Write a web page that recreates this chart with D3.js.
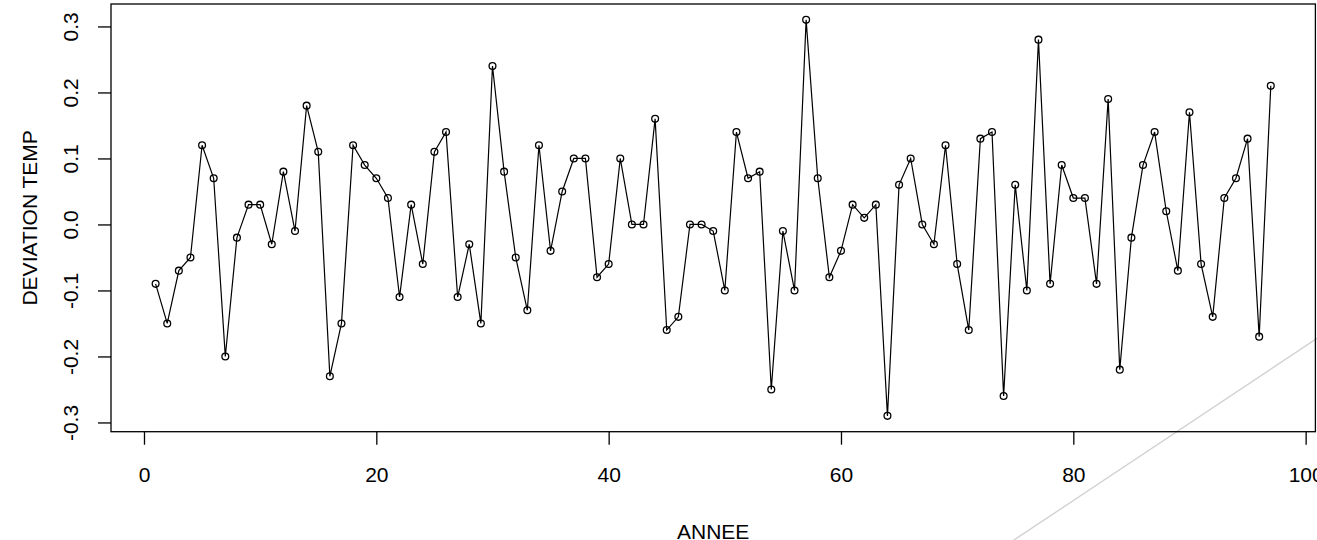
<!DOCTYPE html>
<html>
<head>
<meta charset="utf-8">
<script src="https://cdn.jsdelivr.net/npm/d3@7"></script>
<style>
  html, body { margin: 0; padding: 0; background: #fff; }
  svg { display: block; }
</style>
</head>
<body>
<svg id="chart" width="1317" height="540"></svg>
<script>
// years (ANNEE) and temperature deviation
var annee = d3.range(1, 98);
var deviation = [
  -0.09, -0.15, -0.07, -0.05, 0.12, 0.07, -0.20, -0.02, 0.03, 0.03,
  -0.03, 0.08, -0.01, 0.18, 0.11, -0.23, -0.15, 0.12, 0.09, 0.07,
  0.04, -0.11, 0.03, -0.06, 0.11, 0.14, -0.11, -0.03, -0.15, 0.24,
  0.08, -0.05, -0.13, 0.12, -0.04, 0.05, 0.10, 0.10, -0.08, -0.06,
  0.10, 0.00, 0.00, 0.16, -0.16, -0.14, 0.00, 0.00, -0.01, -0.10,
  0.14, 0.07, 0.08, -0.25, -0.01, -0.10, 0.31, 0.07, -0.08, -0.04,
  0.03, 0.01, 0.03, -0.29, 0.06, 0.10, 0.00, -0.03, 0.12, -0.06,
  -0.16, 0.13, 0.14, -0.26, 0.06, -0.10, 0.28, -0.09, 0.09, 0.04,
  0.04, -0.09, 0.19, -0.22, -0.02, 0.09, 0.14, 0.02, -0.07, 0.17,
  -0.06, -0.14, 0.04, 0.07, 0.13, -0.17, 0.21
];

// tick labels
var xTicks = [0, 20, 40, 60, 80, 100];
var yTicks = [-0.3, -0.2, -0.1, 0.0, 0.1, 0.2, 0.3];
var yTickLabels = ["-0.3", "-0.2", "-0.1", "0.0", "0.1", "0.2", "0.3"];

// light grey reference line (two ends, in data units)
var refX = [73, 103];
var refY = [-0.5003, -0.1489];

var W = 1317, H = 540;
var margin = { left: 111, right: 1.6, top: 4, bottom: 108.3 };
var font = "'Liberation Sans', Arial, Helvetica, sans-serif";

// R style 4% padding around the data range
function pad(ext) { var d = (ext[1] - ext[0]) * 0.04; return [ext[0] - d, ext[1] + d]; }

var scX = d3.scaleLinear().domain(pad(d3.extent(annee))).range([margin.left, W - margin.right]);
var scY = d3.scaleLinear().domain(pad(d3.extent(deviation))).range([H - margin.bottom, margin.top]);

var svg = d3.select("#chart");
svg.append("rect").attr("width", W).attr("height", H).attr("fill", "#fff");

// grey line, not clipped to the plot region
svg.append("line")
  .attr("x1", scX(refX[0])).attr("y1", scY(refY[0]))
  .attr("x2", scX(refX[1])).attr("y2", scY(refY[1]))
  .attr("stroke", "#d3d3d3").attr("stroke-width", 1.4);

// x axis
var gx = svg.append("g")
  .attr("transform", "translate(0," + (H - margin.bottom) + ")")
  .call(d3.axisBottom(scX).tickValues(xTicks).tickSize(13).tickFormat(d3.format("d")));
gx.select(".domain").remove();
gx.selectAll(".tick line").attr("stroke", "#000").attr("stroke-width", 1.3);
gx.selectAll(".tick text")
  .attr("y", 50).attr("dy", 0)
  .attr("fill", "#000")
  .style("font-family", font).style("font-size", "21px");

// y axis, labels rotated like R's las=0
var gy = svg.append("g")
  .attr("transform", "translate(" + margin.left + ",0)")
  .call(d3.axisLeft(scY).tickValues(yTicks).tickSize(13)
    .tickFormat(function(d, i) { return yTickLabels[i]; }));
gy.select(".domain").remove();
gy.selectAll(".tick line").attr("stroke", "#000").attr("stroke-width", 1.3);
gy.selectAll(".tick text")
  .attr("transform", "rotate(-90)")
  .attr("x", 0).attr("y", -32.7).attr("dy", 0)
  .attr("text-anchor", "middle")
  .attr("fill", "#000")
  .style("font-family", font).style("font-size", "21px");

// plot box
svg.append("rect")
  .attr("x", margin.left).attr("y", margin.top)
  .attr("width", W - margin.right - margin.left)
  .attr("height", H - margin.bottom - margin.top)
  .attr("fill", "none").attr("stroke", "#000").attr("stroke-width", 1.3);

// series: line plus open circles (type = "o")
var pts = annee.map(function(a, i) { return [a, deviation[i]]; });

svg.append("path")
  .datum(pts)
  .attr("fill", "none").attr("stroke", "#000").attr("stroke-width", 1.2)
  .attr("d", d3.line().x(d => scX(d[0])).y(d => scY(d[1])));

svg.selectAll("circle.pt").data(pts).enter().append("circle")
  .attr("class", "pt")
  .attr("cx", d => scX(d[0])).attr("cy", d => scY(d[1]))
  .attr("r", 3.4)
  .attr("fill", "none").attr("stroke", "#000").attr("stroke-width", 1.3);

// axis titles
svg.append("text")
  .attr("x", (margin.left + W - margin.right) / 2).attr("y", 538.8)
  .attr("text-anchor", "middle")
  .style("font-family", font).style("font-size", "21px")
  .text("ANNEE");

svg.append("text")
  .attr("transform", "translate(37.3," + ((margin.top + H - margin.bottom) / 2) + ") rotate(-90)")
  .attr("text-anchor", "middle")
  .style("font-family", font).style("font-size", "21px")
  .text("DEVIATION TEMP");
</script>
</body>
</html>
